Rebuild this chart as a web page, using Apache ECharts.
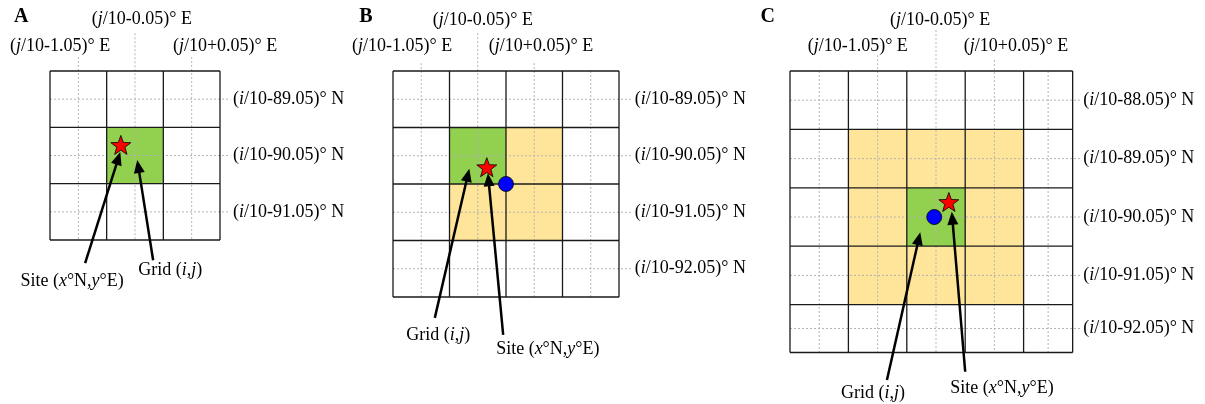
<!DOCTYPE html>
<html><head><meta charset="utf-8">
<script src="https://cdn.jsdelivr.net/npm/echarts@6/dist/echarts.min.js"></script>
<style>html,body{margin:0;padding:0;background:#fff}#c{width:1205px;height:404px}</style>
</head><body><div id="c"></div>
<script>
// ---------- data (in grid-cell units of each panel) ----------
const panelLetters = ['A', 'B', 'C'];
const colEdgesA = [0, 1, 2, 3];
const rowEdgesA = [0, 1, 2, 3];
const colEdgesB = [0, 1, 2, 3, 4];
const rowEdgesB = [0, 1, 2, 3, 4];
const colEdgesC = [0, 1, 2, 3, 4, 4.84];
const rowEdgesC = [0, 1, 2, 3, 4, 4.82];
const greenCellsA = [[1, 1]];
const yellowCellsA = [];
const greenCellsB = [[1, 1]];
const yellowCellsB = [[2, 1], [1, 2], [2, 2]];
const greenCellsC = [[2, 2]];
const yellowCellsC = [[1, 1], [2, 1], [3, 1], [1, 2], [3, 2], [1, 3], [2, 3], [3, 3]];
const siteA = [1.25, 1.33];
const siteB = [1.66, 1.72];
const siteC = [2.72, 2.26];
const centreB = [2.0, 2.0];
const centreC = [2.47, 2.50];
// arrows: [tailX, tailY, headX, headY]
const siteArrowA = [0.62, 3.41, 1.24, 1.44];
const gridArrowA = [1.82, 3.36, 1.54, 1.58];
const gridArrowB = [0.74, 4.37, 1.35, 1.73];
const siteArrowB = [1.95, 4.67, 1.68, 1.81];
const gridArrowC = [1.66, 5.29, 2.23, 2.76];
const siteArrowC = [3.00, 5.15, 2.77, 2.41];
const siteLabelPos = [[0.39, 3.73], [2.74, 4.92], [3.63, 5.43]];
const gridLabelPos = [[2.12, 3.53], [0.80, 4.67], [1.42, 5.51]];
const lonLabels = ['({it|j}/10-1.05)° E', '({it|j}/10-0.05)° E', '({it|j}/10+0.05)° E'];
const lonLabelPosA = [[0.18, -0.44], [1.62, -0.91], [3.09, -0.44]];
const lonLabelPosB = [[0.16, -0.44], [1.59, -0.90], [2.62, -0.44]];
const lonLabelPosC = [[1.16, -0.43], [2.57, -0.87], [3.87, -0.43]];
const latValuesA = ['89.05', '90.05', '91.05'];
const latValuesB = ['89.05', '90.05', '91.05', '92.05'];
const latValuesC = ['88.05', '89.05', '90.05', '91.05', '92.05'];
const latLabelX = [3.23, 4.28, 5.02];
// dotted guide extensions: vertical [x, topY], horizontal right end
const vGuideTopA = [[0.5, -0.25], [1.5, -0.67], [2.5, -0.25]];
const vGuideTopB = [[0.5, -0.14], [1.5, -0.67], [2.5, -0.14]];
const vGuideTopC = [[1.5, -0.27], [2.5, -0.70], [3.5, -0.19]];
const hGuideRight = [3.18, 4.25, 5.0];
const letterPos = [[-0.51, -0.96], [-0.48, -0.96], [-0.38, -0.92]];

const siteText = 'Site ({it|x}°N,{it|y}°E)';
const gridText = 'Grid ({it|i},{it|j})';

// ---------- helpers ----------
const FONT = '"Liberation Serif", "Times New Roman", serif';
const GREEN = '#92d050', YELLOW = '#ffe599';
const FS = 18;

function mids(e) { const m = []; for (let k = 0; k < e.length - 1; k++) m.push((e[k] + e[k + 1]) / 2); return m; }

function lineSeries(p, data, style, z) {
  return {
    type: 'custom', xAxisIndex: p, yAxisIndex: p, z: z, silent: true, clip: false,
    data: data,
    renderItem: function (params, api) {
      const a = api.coord([api.value(0), api.value(1)]);
      const b = api.coord([api.value(2), api.value(3)]);
      return { type: 'line', shape: { x1: a[0], y1: a[1], x2: b[0], y2: b[1] }, style: style };
    }
  };
}

function rectSeries(p, cells, colE, rowE, color) {
  return {
    type: 'custom', xAxisIndex: p, yAxisIndex: p, z: 1, silent: true, clip: false,
    data: cells.map(c => [colE[c[0]], rowE[c[1]], colE[c[0] + 1], rowE[c[1] + 1]]),
    renderItem: function (params, api) {
      const a = api.coord([api.value(0), api.value(1)]);
      const b = api.coord([api.value(2), api.value(3)]);
      return { type: 'rect', shape: { x: a[0], y: a[1], width: b[0] - a[0], height: b[1] - a[1] }, style: { fill: color } };
    }
  };
}

function arrowSeries(p, arrows) {
  return {
    type: 'custom', xAxisIndex: p, yAxisIndex: p, z: 6, silent: true, clip: false,
    data: arrows,
    renderItem: function (params, api) {
      const t = api.coord([api.value(0), api.value(1)]);
      const h = api.coord([api.value(2), api.value(3)]);
      const dx = h[0] - t[0], dy = h[1] - t[1], L = Math.sqrt(dx * dx + dy * dy);
      const ux = dx / L, uy = dy / L, len = 13, w = 5.5;
      const bx = h[0] - ux * len, by = h[1] - uy * len;
      return {
        type: 'group', children: [
          { type: 'line', shape: { x1: t[0], y1: t[1], x2: bx + ux * 2, y2: by + uy * 2 }, style: { stroke: '#000', lineWidth: 2.5 } },
          { type: 'polygon', shape: { points: [[h[0], h[1]], [bx - uy * w, by + ux * w], [bx + uy * w, by - ux * w]] }, style: { fill: '#000' } }
        ]
      };
    }
  };
}

function starSeries(p, pts) {
  return {
    type: 'custom', xAxisIndex: p, yAxisIndex: p, z: 7, silent: true, clip: false,
    data: pts,
    renderItem: function (params, api) {
      const c = api.coord([api.value(0), api.value(1)]);
      const pts = [], R = 10.5, r = 4.3;
      for (let k = 0; k < 10; k++) {
        const ang = -Math.PI / 2 + k * Math.PI / 5, rr = k % 2 ? r : R;
        pts.push([c[0] + rr * Math.cos(ang), c[1] + rr * Math.sin(ang)]);
      }
      return { type: 'polygon', shape: { points: pts }, style: { fill: '#ff0000', stroke: '#000', lineWidth: 0.8 } };
    }
  };
}

function circleSeries(p, pts) {
  return {
    type: 'custom', xAxisIndex: p, yAxisIndex: p, z: 7, silent: true, clip: false,
    data: pts,
    renderItem: function (params, api) {
      const c = api.coord([api.value(0), api.value(1)]);
      return { type: 'circle', shape: { cx: c[0], cy: c[1], r: 7.5 }, style: { fill: '#0000ff', stroke: '#000', lineWidth: 0.8 } };
    }
  };
}

function textSeries(p, items, size, weight, align) {
  return {
    type: 'custom', xAxisIndex: p, yAxisIndex: p, z: 8, silent: true, clip: false,
    data: items.map(it => [it.pos[0], it.pos[1]]),
    renderItem: function (params, api) {
      const c = api.coord([api.value(0), api.value(1)]);
      return {
        type: 'text',
        style: {
          text: items[params.dataIndex].text, x: c[0], y: c[1],
          font: weight + ' ' + size + 'px ' + FONT, fill: '#000',
          align: align, verticalAlign: 'middle',
          rich: { it: { font: 'italic ' + weight + ' ' + size + 'px ' + FONT, fill: '#000' } }
        }
      };
    }
  };
}

const panels = [
  { colE: colEdgesA, rowE: rowEdgesA, green: greenCellsA, yellow: yellowCellsA, site: siteA, centre: null,
    arrows: [siteArrowA, gridArrowA], lonPos: lonLabelPosA, lat: latValuesA, vTop: vGuideTopA },
  { colE: colEdgesB, rowE: rowEdgesB, green: greenCellsB, yellow: yellowCellsB, site: siteB, centre: centreB,
    arrows: [gridArrowB, siteArrowB], lonPos: lonLabelPosB, lat: latValuesB, vTop: vGuideTopB },
  { colE: colEdgesC, rowE: rowEdgesC, green: greenCellsC, yellow: yellowCellsC, site: siteC, centre: centreC,
    arrows: [gridArrowC, siteArrowC], lonPos: lonLabelPosC, lat: latValuesC, vTop: vGuideTopC }
];

const grids = [
  { left: 50, top: 71, width: 170, height: 169 },
  { left: 393, top: 71, width: 226, height: 226 },
  { left: 790, top: 71, width: 292, height: 292 }
];
const axisMax = [3, 4, 5];

const series = [];
panels.forEach(function (P, p) {
  const colE = P.colE, rowE = P.rowE;
  const x0 = colE[0], x1 = colE[colE.length - 1], y0 = rowE[0], y1 = rowE[rowE.length - 1];
  series.push(rectSeries(p, P.yellow, colE, rowE, YELLOW));
  series.push(rectSeries(p, P.green, colE, rowE, GREEN));
  const dotted = [];
  mids(colE).forEach(function (m) {
    const ext = P.vTop.find(v => v[0] === m);
    dotted.push([m, ext ? ext[1] : y0, m, y1]);
  });
  mids(rowE).forEach(function (m) { dotted.push([x0, m, hGuideRight[p], m]); });
  series.push(lineSeries(p, dotted, { stroke: '#b4b4b4', lineWidth: 1, lineDash: [2, 2] }, 2));
  const solid = [];
  colE.forEach(function (x) { solid.push([x, y0, x, y1]); });
  rowE.forEach(function (y) { solid.push([x0, y, x1, y]); });
  series.push(lineSeries(p, solid, { stroke: '#1a1a1a', lineWidth: 1.3 }, 3));
  series.push(arrowSeries(p, P.arrows));
  series.push(starSeries(p, [P.site]));
  if (P.centre) series.push(circleSeries(p, [P.centre]));
  const midTexts = [
    { text: siteText, pos: siteLabelPos[p] },
    { text: gridText, pos: gridLabelPos[p] }
  ].concat(P.lonPos.map((pos, k) => ({ text: lonLabels[k], pos: pos })));
  series.push(textSeries(p, midTexts, FS, 'normal', 'center'));
  const rowMids = mids(rowE);
  series.push(textSeries(p, P.lat.map((v, k) => ({ text: '({it|i}/10-' + v + ')° N', pos: [latLabelX[p], rowMids[k]] })), FS, 'normal', 'left'));
  series.push(textSeries(p, [{ text: panelLetters[p], pos: letterPos[p] }], 20, 'bold', 'center'));
});

const chart = echarts.init(document.getElementById('c'), null, { renderer: 'canvas' });
chart.setOption({
  backgroundColor: '#fff',
  animation: false,
  grid: grids,
  xAxis: grids.map((g, i) => ({ gridIndex: i, type: 'value', min: 0, max: axisMax[i], show: false })),
  yAxis: grids.map((g, i) => ({ gridIndex: i, type: 'value', min: 0, max: axisMax[i], inverse: true, show: false })),
  series: series
});
</script></body></html>
